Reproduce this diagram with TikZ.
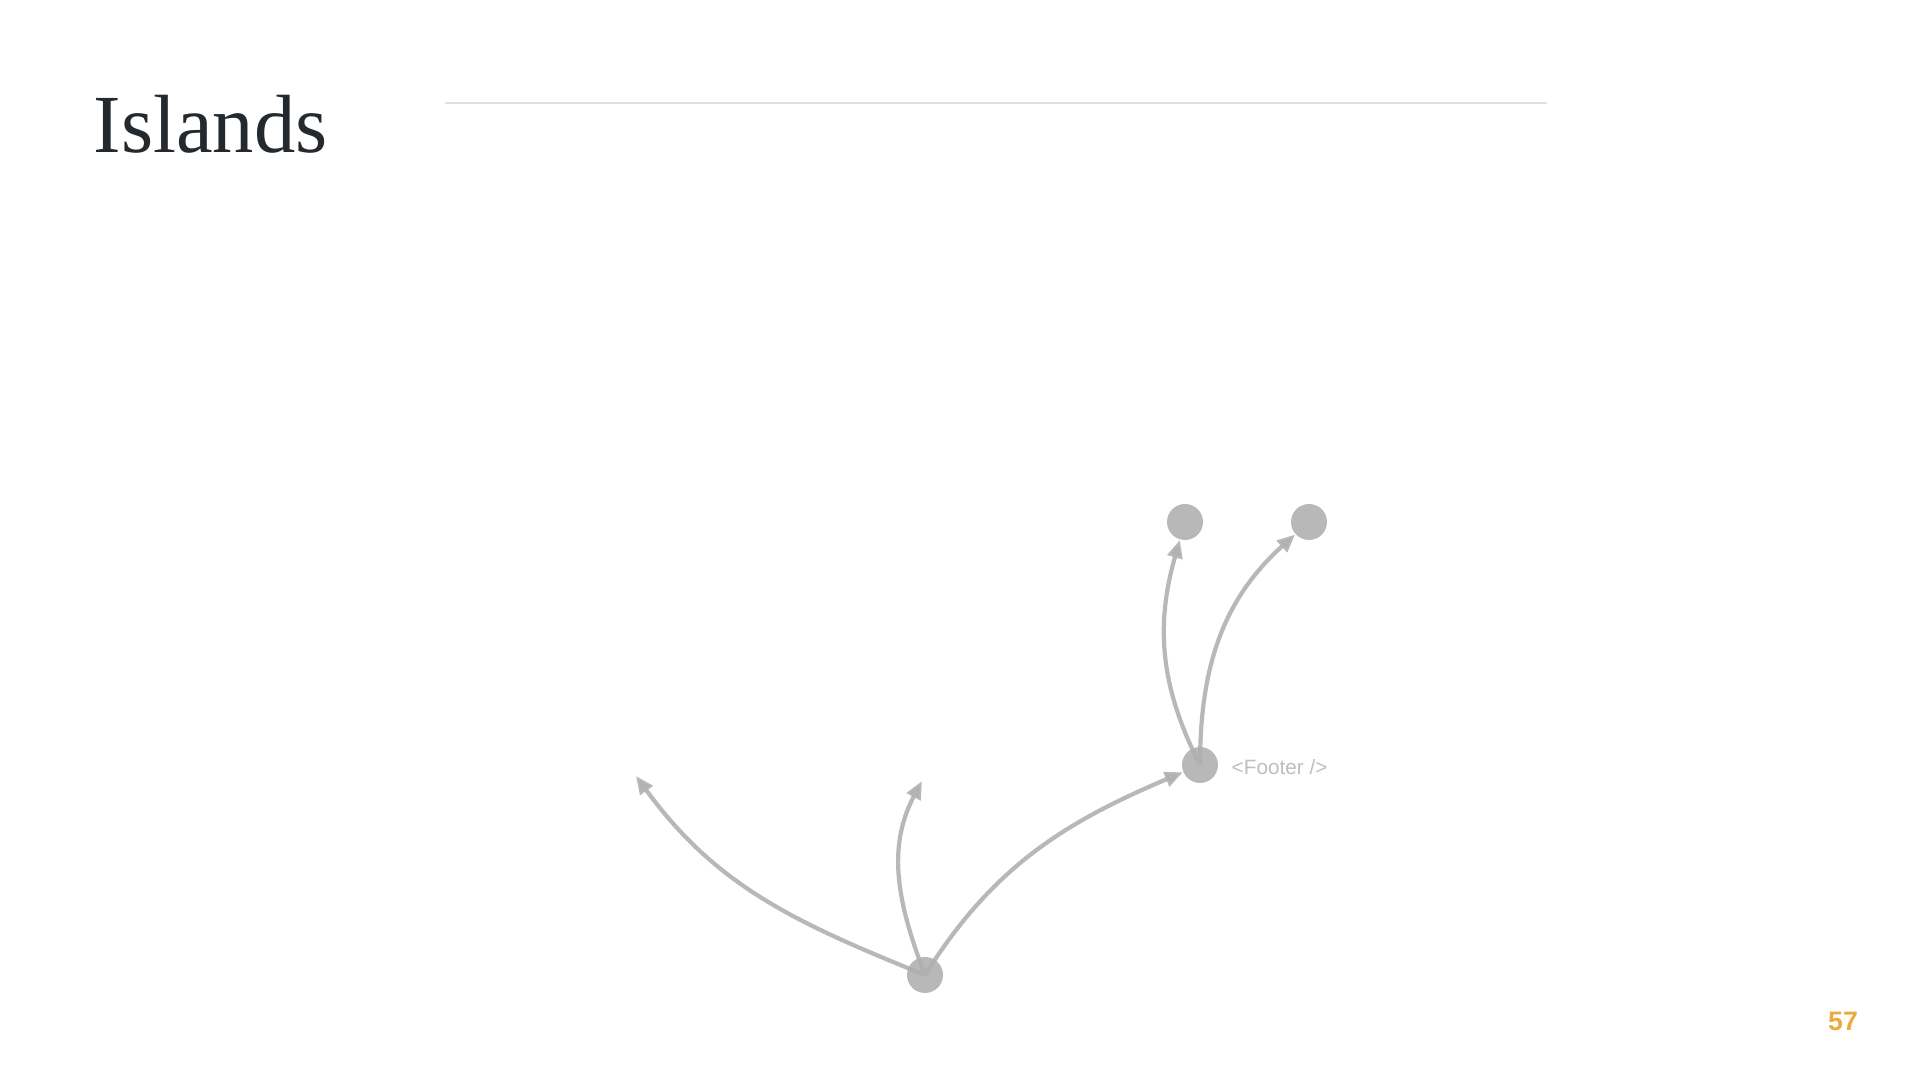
\documentclass[tikz,border=0pt]{standalone}
\usepackage{fontspec}
\setmainfont{Liberation Serif}
\newfontfamily\uisans{Liberation Sans}
\usepackage{tikz}
\usetikzlibrary{arrows.meta}
\definecolor{ink}{RGB}{36,41,46}
\definecolor{rulegray}{RGB}{224,224,224}
\definecolor{dotgray}{RGB}{184,184,184}
\definecolor{linegray}{RGB}{176,176,176}
\definecolor{labelgray}{RGB}{190,190,190}
\definecolor{pagenum}{RGB}{235,170,60}
\begin{document}
\begin{tikzpicture}[
  dot/.style={circle, fill=dotgray, minimum size=0.36cm, inner sep=0pt},
  ed/.style={-{Triangle[length=1.8mm, width=1.5mm]}, line width=1.2pt,
    color=linegray, opacity=0.9},
  lbl/.style={font=\uisans\fontsize{5.9}{7}\selectfont, text=labelgray, inner sep=0pt}
]
\useasboundingbox (0,0) rectangle (19.2,10.8);
\node[anchor=base west, inner sep=0pt, text=ink, font=\fontsize{23.5}{28}\selectfont] (title) at (0.93,9.27) {Islands};
\draw[rulegray, line width=0.4pt] (4.45,9.77) -- (15.47,9.77);
% the tree
\node[dot] (root) at (9.25,1.05) {};
\node[dot] (footer) at (12.00,3.15) {};
\node[dot] (left) at (11.85,5.58) {};
\node[dot] (right) at (13.09,5.58) {};
\node[lbl, anchor=west] (fname) at (12.31,3.13) {<Footer />};
\coordinate (loose1) at (6.36,3.04);
\coordinate (loose2) at (9.22,2.99);
\draw[ed] (root.center) to[out=158, in=306] (loose1);
\draw[ed] (root.center) to[out=111, in=242] (loose2);
\draw[ed] (root.center) to[out=58, in=203] (footer);
\draw[ed] (footer.center) to[out=117, in=254] (left);
\draw[ed] (footer.center) to[out=90, in=222] (right);
\node[font=\uisans\bfseries\fontsize{7.6}{9}\selectfont, text=pagenum, inner sep=0pt] (pg) at (18.43,0.585) {57};
\end{tikzpicture}
\end{document}
